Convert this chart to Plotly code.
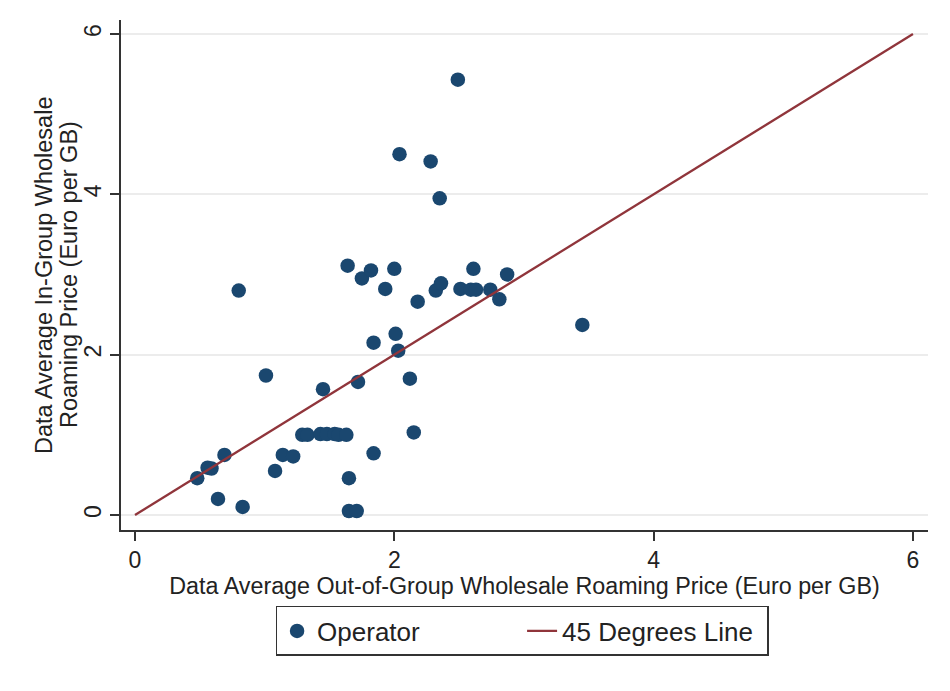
import plotly.graph_objects as go

# operator averages (Euro per GB)
out_group_price = [0.48, 0.56, 0.59, 0.69, 0.64, 0.83, 0.80, 1.01, 1.08, 1.14,
                   1.22, 1.29, 1.33, 1.43, 1.48, 1.54, 1.57, 1.63, 1.45, 1.65,
                   1.65, 1.71, 1.64, 1.72, 1.75, 1.82, 1.84, 1.84, 1.93, 2.00,
                   2.01, 2.03, 2.04, 2.12, 2.15, 2.18, 2.28, 2.32, 2.36, 2.35,
                   2.49, 2.51, 2.59, 2.63, 2.61, 2.74, 2.81, 2.87, 3.45]
in_group_price = [0.46, 0.59, 0.58, 0.75, 0.20, 0.10, 2.80, 1.74, 0.55, 0.75,
                  0.73, 1.00, 1.00, 1.01, 1.01, 1.01, 1.00, 1.00, 1.57, 0.46,
                  0.05, 0.05, 3.11, 1.66, 2.95, 3.05, 0.77, 2.15, 2.82, 3.07,
                  2.26, 2.05, 4.50, 1.70, 1.03, 2.66, 4.41, 2.80, 2.89, 3.95,
                  5.43, 2.82, 2.81, 2.81, 3.07, 2.81, 2.69, 3.00, 2.37]

line_x = [0, 6]
line_y = [0, 6]
tick_vals = [0, 2, 4, 6]
y_title_lines = ['Data Average In-Group Wholesale', 'Roaming Price (Euro per GB)']

navy = '#1a476f'
maroon = '#90353b'
font = 'Liberation Sans, Arial, sans-serif'

fig = go.Figure()

fig.add_trace(
    go.Scatter(
        x=out_group_price,
        y=in_group_price,
        mode='markers',
        name='Operator',
        marker=dict(color=navy, size=14.5, line=dict(width=0))
    )
)

fig.add_trace(
    go.Scatter(
        x=line_x,
        y=line_y,
        mode='lines',
        name='45 Degrees Line',
        line=dict(color=maroon, width=2.3)
    )
)

fig.update_xaxes(
    range=[-0.108, 6.116],
    tickvals=tick_vals,
    ticks='outside', ticklen=9, tickwidth=1.5, tickcolor='#333333',
    tickfont=dict(size=23, color='#222222'),
    showline=True, linewidth=1.5, linecolor='#333333',
    showgrid=False, zeroline=False,
    title=dict(text='Data Average Out-of-Group Wholesale Roaming Price (Euro per GB)',
               font=dict(size=23.3, color='#222222'), standoff=5)
)
fig.update_yaxes(
    range=[-0.187, 6.174],
    tickvals=tick_vals,
    ticks='outside', ticklen=9, tickwidth=1.5, tickcolor='#333333',
    tickangle=-90,
    tickfont=dict(size=23, color='#222222'),
    showline=True, linewidth=1.5, linecolor='#333333',
    showgrid=True, gridcolor='#ececec', gridwidth=1.5, zeroline=False
)

# y title: two rotated lines, spaced tighter than plotly's own line height
for xpos, line in zip([-0.0954, -0.0644], y_title_lines):
    fig.add_annotation(
        text=line,
        xref='paper', yref='paper',
        x=xpos, y=0.5, xanchor='center', yanchor='middle',
        textangle=-90, showarrow=False,
        font=dict(size=23.5, color='#222222')
    )

# page body adds an 8px offset, so the figure is sized a little smaller
fig.update_layout(
    width=942,
    height=683,
    margin=dict(l=113, r=22, t=12, b=161),
    paper_bgcolor='white',
    plot_bgcolor='white',
    font=dict(family=font),
    showlegend=True,
    legend=dict(
        orientation='h',
        x=0.497, xanchor='center',
        y=-0.149, yanchor='top',
        font=dict(size=26, color='#222222'),
        bordercolor='#333333', borderwidth=1.5,
        entrywidth=200,
        itemwidth=30
    )
)

fig.write_html("out.html")
